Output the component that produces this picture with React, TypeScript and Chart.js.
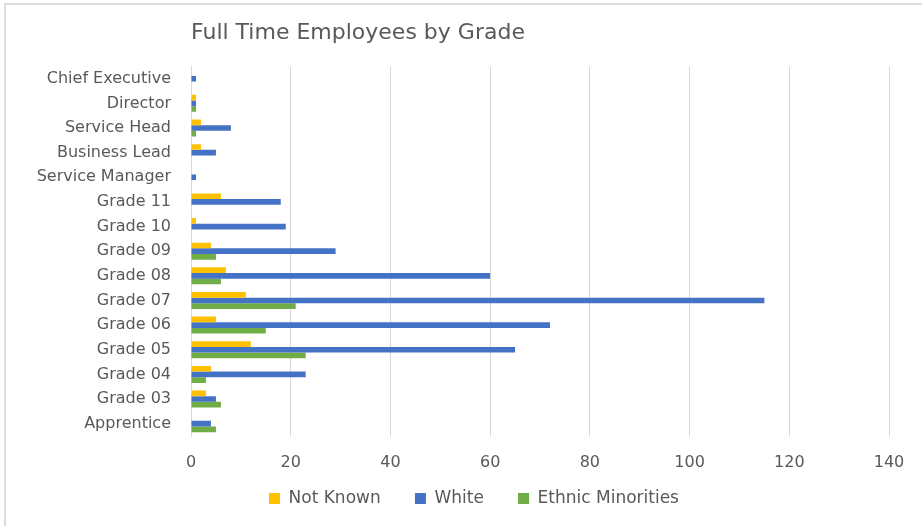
import React, { useEffect, useRef } from "react";
import { Chart, registerables } from "chart.js";

Chart.register(...registerables);

const categories = [
  "Chief Executive",
  "Director",
  "Service Head",
  "Business Lead",
  "Service Manager",
  "Grade 11",
  "Grade 10",
  "Grade 09",
  "Grade 08",
  "Grade 07",
  "Grade 06",
  "Grade 05",
  "Grade 04",
  "Grade 03",
  "Apprentice",
];
const notKnown = [0, 1, 2, 2, 0, 6, 1, 4, 7, 11, 5, 12, 4, 3, 0];
const white = [1, 1, 8, 5, 1, 18, 19, 29, 60, 115, 72, 65, 23, 5, 4];
const ethnicMinorities = [0, 1, 1, 0, 0, 0, 0, 5, 6, 21, 15, 23, 3, 6, 5];
const xTicks = [0, 20, 40, 60, 80, 100, 120, 140];

const FONT = "'DejaVu Sans', sans-serif";
const TEXT = "#595959";
const GRID = "#d9d9d9";

export default function App() {
  const ref = useRef<HTMLCanvasElement | null>(null);

  useEffect(() => {
    document.body.style.margin = "0";
    document.body.style.overflow = "hidden";
    const canvas = ref.current;
    if (!canvas) return;
    const chart = new Chart(canvas, {
      type: "bar",
      data: {
        labels: categories,
        datasets: [
          { label: "Not Known", data: notKnown, backgroundColor: "#FFC000" },
          { label: "White", data: white, backgroundColor: "#4472C4" },
          { label: "Ethnic Minorities", data: ethnicMinorities, backgroundColor: "#70AD47" },
        ],
      },
      options: {
        indexAxis: "y",
        animation: false,
        responsive: true,
        maintainAspectRatio: false,
        datasets: { bar: { categoryPercentage: 0.69, barPercentage: 1 } },
        layout: { padding: { left: 26, right: 0, top: 0, bottom: 9 } },
        scales: {
          x: {
            min: 0,
            max: 140,
            afterBuildTicks: (scale: any) => {
              scale.ticks = xTicks.map((v) => ({ value: v }));
            },
            afterFit: (scale: any) => {
              scale.height = 36;
            },
            grid: { color: GRID, lineWidth: 1, drawTicks: false },
            border: { display: false },
            ticks: { color: TEXT, font: { family: FONT, size: 16, lineHeight: 1.2 }, padding: 17 },
          },
          y: {
            afterFit: (scale: any) => {
              scale.width = 165;
            },
            grid: { display: false, drawTicks: false },
            border: { display: true, color: GRID, width: 1 },
            ticks: { color: TEXT, font: { family: FONT, size: 16 }, padding: 20, autoSkip: false },
          },
          yRight: {
            type: "linear",
            position: "right",
            display: true,
            afterFit: (scale: any) => {
              scale.width = 33;
            },
            grid: { display: false, drawTicks: false },
            border: { display: false },
            ticks: { display: false },
          },
        },
        plugins: {
          title: {
            display: true,
            text: "Full Time Employees by Grade",
            align: "start",
            fullSize: false,
            color: TEXT,
            font: { family: FONT, size: 22, weight: "normal", lineHeight: 1.2 },
            padding: { top: 20, bottom: 20 },
          },
          legend: {
            position: "bottom",
            labels: {
              color: TEXT,
              font: { family: FONT, size: 17 },
              boxWidth: 11,
              boxHeight: 11,
              padding: 18,
              generateLabels: (c: any) => {
                const items = (Chart.defaults.plugins.legend.labels as any).generateLabels(c);
                return items.map((it: any, i: number) => ({
                  ...it,
                  text: i < items.length - 1 ? it.text + "\u00a0\u00a0\u00a0" : it.text,
                }));
              },
            },
          },
          tooltip: { enabled: false },
        },
      },
    });
    return () => chart.destroy();
  }, []);

  return (
    <div
      style={{
        position: "fixed",
        left: 0,
        top: 0,
        width: 922,
        height: 526,
        background: "#fff",
        overflow: "hidden",
      }}
    >
      <div style={{ position: "absolute", left: 4, top: 3, width: 918, height: 2, background: "#dcdcdc" }} />
      <div style={{ position: "absolute", left: 4, top: 3, width: 2, height: 523, background: "#dcdcdc" }} />
      <div style={{ position: "absolute", left: 0, top: 0, width: 922, height: 526 }}>
        <canvas ref={ref} />
      </div>
    </div>
  );
}
